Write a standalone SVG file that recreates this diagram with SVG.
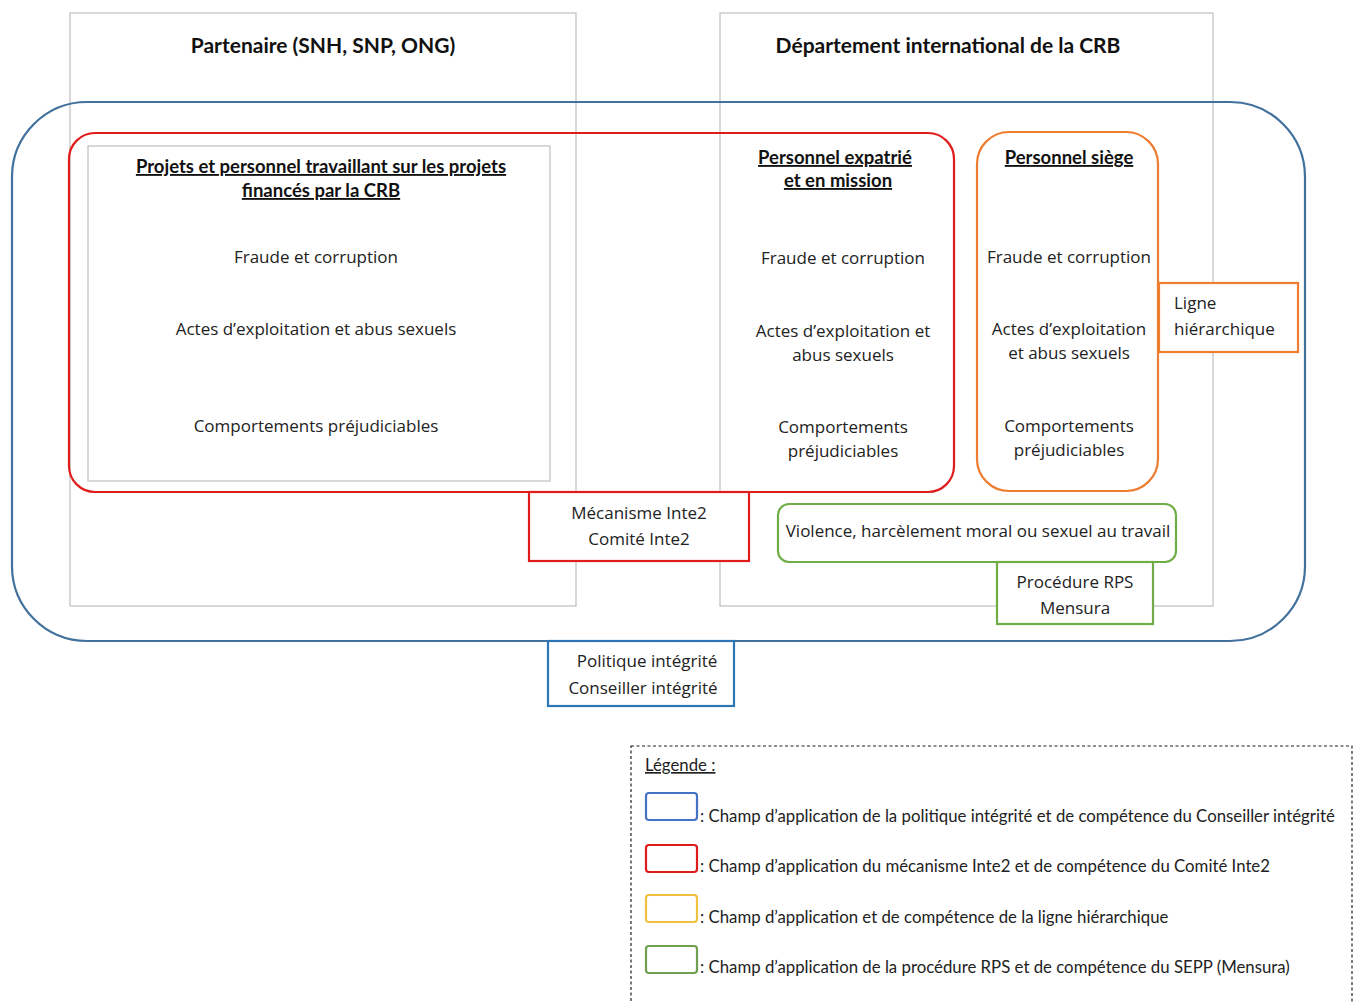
<svg xmlns="http://www.w3.org/2000/svg" width="1358" height="1003" viewBox="0 0 1358 1003">
<style>
.bg{fill:#fff}
.zone{fill:none;stroke:#BFBFBF;stroke-width:1.2}
.blue{fill:none;stroke:#41719C;stroke-width:2.2}
.red{fill:none;stroke:#E01B1B;stroke-width:2.2}
.orange{fill:none;stroke:#ED7D31;stroke-width:2.2}
.green{fill:none;stroke:#70AD47;stroke-width:2.2}
.lblue{fill:#fff;stroke:#2E75B6;stroke-width:2.2}
.lred{fill:#fff;stroke:#E01B1B;stroke-width:2.2}
.lorange{fill:#fff;stroke:#ED7D31;stroke-width:2.2}
.lgreen{fill:#fff;stroke:#70AD47;stroke-width:2.2}
.h{font-family:Lato,"Liberation Sans",sans-serif;font-weight:bold;font-size:21px;fill:#111;text-anchor:middle}
.sh{font-family:Lato,"Liberation Sans",sans-serif;font-weight:bold;font-size:18.5px;fill:#111;text-anchor:middle;text-decoration:underline}
.b{font-family:"Open Sans","Noto Sans",sans-serif;font-size:17px;fill:#222;text-anchor:middle}
.lg{font-family:Lato,"Liberation Sans",sans-serif;font-size:16.8px;fill:#222}
</style>
<rect class="bg" width="1358" height="1003"/>
<g id="partenaire"><rect class="zone" x="70" y="13" width="506" height="593"/><text class="h" x="323" y="53">Partenaire (SNH, SNP, ONG)</text></g>
<g id="departement"><rect class="zone" x="720" y="13" width="493" height="593"/><text class="h" x="948" y="53">Département international de la CRB</text></g>
<g id="politique-scope"><rect class="blue" x="12" y="102" width="1293" height="539" rx="75" ry="75"/></g>
<g id="inte2-scope"><rect class="red" x="69" y="133" width="885" height="359" rx="26" ry="26"/></g>
<g id="projets"><rect class="zone" x="88" y="146" width="462" height="335"/>
<text class="sh" x="321" y="173">Projets et personnel travaillant sur les projets</text>
<text class="sh" x="321" y="197">financés par la CRB</text>
<text class="b" x="316" y="263">Fraude et corruption</text>
<text class="b" x="316" y="335">Actes d’exploitation et abus sexuels</text>
<text class="b" x="316" y="432">Comportements préjudiciables</text></g>
<g id="expatrie">
<text class="sh" x="835" y="164">Personnel expatrié</text>
<text class="sh" x="838" y="187">et en mission</text>
<text class="b" x="843" y="264">Fraude et corruption</text>
<text class="b" x="843" y="337">Actes d’exploitation et</text>
<text class="b" x="843" y="361">abus sexuels</text>
<text class="b" x="843" y="433">Comportements</text>
<text class="b" x="843" y="457">préjudiciables</text></g>
<g id="siege"><rect class="orange" x="977" y="132" width="181" height="359" rx="32" ry="32"/>
<text class="sh" x="1069" y="164">Personnel siège</text>
<text class="b" x="1069" y="263">Fraude et corruption</text>
<text class="b" x="1069" y="335">Actes d’exploitation</text>
<text class="b" x="1069" y="359">et abus sexuels</text>
<text class="b" x="1069" y="432">Comportements</text>
<text class="b" x="1069" y="456">préjudiciables</text></g>
<g id="ligne"><rect class="lorange" x="1159" y="283" width="139" height="69"/>
<text class="b" x="1174" y="309" style="text-anchor:start">Ligne</text>
<text class="b" x="1174" y="335" style="text-anchor:start">hiérarchique</text></g>
<g id="mecanisme"><rect class="lred" x="529" y="492" width="220" height="69"/>
<text class="b" x="639" y="519">Mécanisme Inte2</text>
<text class="b" x="639" y="545">Comité Inte2</text></g>
<g id="violence"><rect class="green" x="778" y="504" width="398" height="58" rx="11" ry="11"/>
<text class="b" x="978" y="537">Violence, harcèlement moral ou sexuel au travail</text></g>
<g id="rps"><rect class="lgreen" x="997" y="562" width="156" height="62"/>
<text class="b" x="1075" y="588">Procédure RPS</text>
<text class="b" x="1075" y="614">Mensura</text></g>
<g id="politique"><rect class="lblue" x="548" y="641" width="186" height="65"/>
<text class="b" x="647" y="667">Politique intégrité</text>
<text class="b" x="643" y="694">Conseiller intégrité</text></g>
<g id="connectors"></g>
<g id="legende">
<rect x="631" y="746" width="721" height="270" fill="none" stroke="#222" stroke-width="1.2" stroke-dasharray="3,2.5"/>
<text class="lg" x="645" y="771" style="text-decoration:underline">Légende :</text>
<rect x="646" y="793" width="51" height="27" rx="3" fill="none" stroke="#4472C4" stroke-width="2.2"/>
<text class="lg" x="700" y="822">: Champ d’application de la politique intégrité et de compétence du Conseiller intégrité</text>
<rect x="646" y="845" width="51" height="27" rx="3" fill="none" stroke="#E01B1B" stroke-width="2.2"/>
<text class="lg" x="700" y="872">: Champ d’application du mécanisme Inte2 et de compétence du Comité Inte2</text>
<rect x="646" y="895" width="51" height="27" rx="3" fill="none" stroke="#F0C040" stroke-width="2.2"/>
<text class="lg" x="700" y="923">: Champ d’application et de compétence de la ligne hiérarchique</text>
<rect x="646" y="946" width="51" height="27" rx="3" fill="none" stroke="#6FA050" stroke-width="2.2"/>
<text class="lg" x="700" y="973">: Champ d’application de la procédure RPS et de compétence du SEPP (Mensura)</text>
</g>
</svg>
